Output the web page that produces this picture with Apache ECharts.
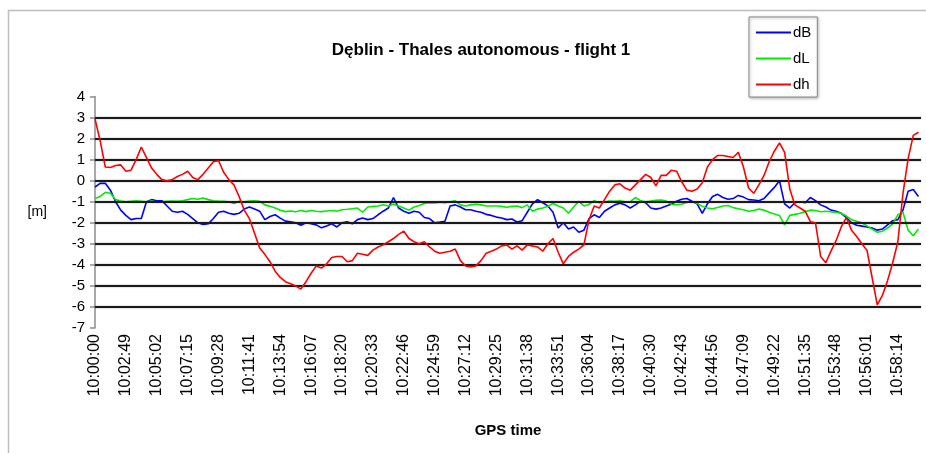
<!DOCTYPE html>
<html>
<head>
<meta charset="utf-8">
<script src="https://cdn.jsdelivr.net/npm/echarts@6/dist/echarts.min.js"></script>
<style>
html,body{margin:0;padding:0;background:#fff;}
#chart{width:926px;height:453px;}
</style>
</head>
<body>
<div id="chart"></div>
<script>
// Tick labels of the time axis (one every label step)
const tickLabels = ["10:00:00","10:02:49","10:05:02","10:07:15","10:09:28","10:11:41","10:13:54","10:16:07","10:18:20","10:20:33","10:22:46","10:24:59","10:27:12","10:29:25","10:31:38","10:33:51","10:36:04","10:38:17","10:40:30","10:42:43","10:44:56","10:47:09","10:49:22","10:51:35","10:53:48","10:56:01","10:58:14"];
// samples per label step
const samplesPerLabel = 6;
const gridValues = [3,2,1,0,-1,-2,-3,-4,-5,-6];

const dB = [-0.3,-0.13,-0.12,-0.45,-1.0,-1.4,-1.65,-1.85,-1.8,-1.8,
-1.0,-0.9,-0.95,-0.95,-1.2,-1.45,-1.5,-1.45,-1.6,-1.8,
-2.0,-2.08,-2.05,-1.8,-1.5,-1.45,-1.55,-1.6,-1.55,-1.35,
-1.25,-1.35,-1.45,-1.85,-1.7,-1.62,-1.78,-1.92,-1.95,-2.0,
-2.12,-2.0,-2.05,-2.1,-2.24,-2.15,-2.05,-2.2,-2.0,-1.95,
-2.05,-1.85,-1.77,-1.85,-1.8,-1.62,-1.45,-1.3,-0.8,-1.3,
-1.45,-1.55,-1.45,-1.5,-1.75,-1.8,-2.0,-1.97,-1.93,-1.2,
-1.15,-1.25,-1.38,-1.38,-1.45,-1.5,-1.6,-1.65,-1.73,-1.77,
-1.85,-1.82,-1.96,-1.9,-1.5,-1.1,-0.9,-1.05,-1.2,-1.5,
-2.25,-2.0,-2.3,-2.2,-2.45,-2.35,-1.8,-1.62,-1.75,-1.45,
-1.3,-1.15,-1.07,-1.15,-1.3,-1.15,-0.98,-1.05,-1.3,-1.35,
-1.3,-1.2,-1.12,-0.98,-0.88,-0.85,-0.98,-1.1,-1.55,-1.1,
-0.75,-0.65,-0.8,-0.88,-0.85,-0.7,-0.78,-0.9,-0.92,-0.95,
-0.85,-0.58,-0.32,0.0,-1.1,-1.3,-1.05,-1.0,-1.05,-0.8,
-0.95,-1.15,-1.25,-1.4,-1.45,-1.55,-1.75,-2.0,-2.12,-2.16,
-2.2,-2.25,-2.35,-2.3,-2.1,-1.9,-1.85,-1.4,-0.5,-0.42,
-0.75];

const dL = [-0.85,-0.75,-0.55,-0.6,-0.9,-0.97,-1.0,-0.98,-0.96,-0.98,
-1.0,-0.97,-1.02,-1.0,-0.98,-0.97,-0.98,-0.95,-0.9,-0.85,
-0.88,-0.82,-0.9,-0.95,-0.97,-0.98,-1.0,-1.08,-0.98,-1.0,
-0.97,-0.95,-0.98,-1.15,-1.22,-1.3,-1.4,-1.47,-1.44,-1.48,
-1.42,-1.47,-1.42,-1.45,-1.47,-1.44,-1.42,-1.45,-1.38,-1.36,
-1.33,-1.3,-1.5,-1.25,-1.22,-1.2,-1.14,-1.2,-1.12,-1.2,
-1.3,-1.4,-1.25,-1.18,-1.08,-1.05,-1.06,-1.02,-1.05,-1.0,
-0.96,-1.15,-1.2,-1.15,-1.12,-1.15,-1.2,-1.2,-1.2,-1.22,
-1.26,-1.22,-1.2,-1.28,-1.15,-1.45,-1.35,-1.3,-1.22,-1.08,
-1.2,-1.3,-1.55,-1.25,-0.98,-1.2,-1.13,-0.95,-1.05,-1.02,
-0.97,-0.98,-0.95,-1.0,-1.0,-0.8,-0.95,-1.0,-0.97,-0.93,
-0.92,-0.97,-1.12,-1.14,-1.12,-1.03,-1.0,-1.08,-1.22,-1.3,
-1.33,-1.27,-1.2,-1.18,-1.28,-1.33,-1.38,-1.45,-1.42,-1.35,
-1.4,-1.5,-1.58,-1.65,-2.1,-1.65,-1.6,-1.55,-1.47,-1.4,
-1.42,-1.48,-1.45,-1.48,-1.5,-1.55,-1.68,-1.85,-1.93,-2.0,
-2.15,-2.3,-2.45,-2.4,-2.25,-2.05,-1.62,-1.5,-2.35,-2.62,
-2.3];

const dh = [2.94,1.9,0.65,0.63,0.72,0.75,0.45,0.5,1.0,1.6,
1.1,0.6,0.3,0.05,0.0,0.05,0.2,0.3,0.45,0.15,
0.05,0.3,0.6,0.9,0.95,0.4,0.05,-0.2,-0.75,-1.4,
-1.8,-2.5,-3.2,-3.5,-3.85,-4.3,-4.6,-4.8,-4.9,-5.0,
-5.15,-4.8,-4.4,-4.05,-4.15,-3.95,-3.65,-3.6,-3.6,-3.85,
-3.8,-3.45,-3.5,-3.55,-3.3,-3.15,-3.05,-2.9,-2.75,-2.55,
-2.4,-2.75,-2.9,-3.0,-2.9,-3.15,-3.35,-3.45,-3.4,-3.35,
-3.25,-3.8,-4.05,-4.1,-4.05,-3.8,-3.45,-3.35,-3.25,-3.1,
-3.05,-3.25,-3.1,-3.3,-3.05,-3.1,-3.15,-3.35,-3.0,-2.75,
-3.4,-3.95,-3.6,-3.4,-3.25,-3.05,-1.85,-1.2,-1.3,-0.9,
-0.5,-0.2,-0.15,-0.35,-0.45,-0.2,0.05,0.3,0.15,-0.25,
0.25,0.25,0.5,0.45,-0.05,-0.45,-0.5,-0.4,-0.1,0.65,
1.0,1.2,1.2,1.15,1.1,1.35,0.65,-0.35,-0.6,-0.2,
0.25,0.9,1.4,1.8,1.35,-0.4,-1.15,-1.3,-1.45,-1.95,
-2.0,-3.6,-3.9,-3.35,-2.85,-2.2,-1.75,-2.35,-2.65,-3.0,
-3.3,-4.6,-5.9,-5.45,-4.75,-3.9,-2.9,-0.6,1.05,2.15,
2.3];

function toPairs(arr){ return arr.map((v,i)=>[i/samplesPerLabel, v]); }

const chart = echarts.init(document.getElementById('chart'), null, {renderer:'canvas'});
const FONT = '"Liberation Sans", Arial, sans-serif';
chart.setOption({
  animation:false,
  backgroundColor:'#fff',
  graphic:[{type:'rect', silent:true, z:-10,
    shape:{x:8.5,y:10.5,width:940,height:460},
    style:{fill:'none', stroke:'#bdbdbd', lineWidth:1.5}}],
  title:{text:'Dęblin - Thales autonomous - flight 1', left:476, top:37, textAlign:'center',
    textStyle:{fontFamily:FONT, fontSize:17, fontWeight:'bold', color:'#000'}},
  legend:{data:['dB','dL','dh'], orient:'vertical', left:749, top:17, icon:'rect',
    itemWidth:35, itemHeight:2, itemGap:11, padding:[8,6,5,7],
    borderColor:'#888', borderWidth:1, backgroundColor:'#fff',
    shadowColor:'rgba(0,0,0,0.3)', shadowBlur:3, shadowOffsetX:1, shadowOffsetY:1,
    textStyle:{fontFamily:FONT, fontSize:15, color:'#000', padding:[0,0,0,-3]}},
  grid:{left:95, right:5, top:96.5, bottom:125, containLabel:false},
  xAxis:{type:'value', min:0, max:26.75, interval:1,
    name:'GPS time', nameLocation:'middle', nameGap:95,
    nameTextStyle:{fontFamily:FONT, fontSize:15, fontWeight:'bold', color:'#000'},
    axisLine:{show:false}, axisTick:{show:false}, splitLine:{show:false},
    axisLabel:{rotate:90, showMaxLabel:false, margin:6, fontFamily:FONT, fontSize:16, color:'#000',
      formatter:(v)=>{const k=Math.round(v); return tickLabels[k]!==undefined?tickLabels[k]:'';}}},
  yAxis:{type:'value', min:-7, max:4, interval:1,
    name:'[m]', nameLocation:'middle', nameGap:48, nameRotate:0,
    nameTextStyle:{fontFamily:FONT, fontSize:14, color:'#000'},
    axisLine:{show:true, lineStyle:{color:'#8c8c8c', width:1.5}},
    axisTick:{show:true, length:5, lineStyle:{color:'#8c8c8c', width:1.5}},
    splitLine:{show:false},
    axisLabel:{margin:10, fontFamily:FONT, fontSize:15, color:'#000'}},
  series:[
    {name:'grid', type:'line', data:[], silent:true, z:1,
      markLine:{silent:true, symbol:['none','none'], label:{show:false},
        lineStyle:{type:'solid', color:'#1a1a1a', width:2.2, shadowColor:'rgba(0,0,0,0.35)', shadowBlur:2},
        data:gridValues.map(v=>({yAxis:v}))}},
    {name:'dB', type:'line', data:toPairs(dB), showSymbol:false, symbol:'none', z:3,
      lineStyle:{color:'#0000ff', width:1.6}, itemStyle:{color:'#0000ff'}},
    {name:'dL', type:'line', data:toPairs(dL), showSymbol:false, symbol:'none', z:4,
      lineStyle:{color:'#00ee00', width:1.6}, itemStyle:{color:'#00ee00'}},
    {name:'dh', type:'line', data:toPairs(dh), showSymbol:false, symbol:'none', z:5,
      lineStyle:{color:'#ff0000', width:1.6}, itemStyle:{color:'#ff0000'}}
  ]
});
</script>
</body>
</html>
